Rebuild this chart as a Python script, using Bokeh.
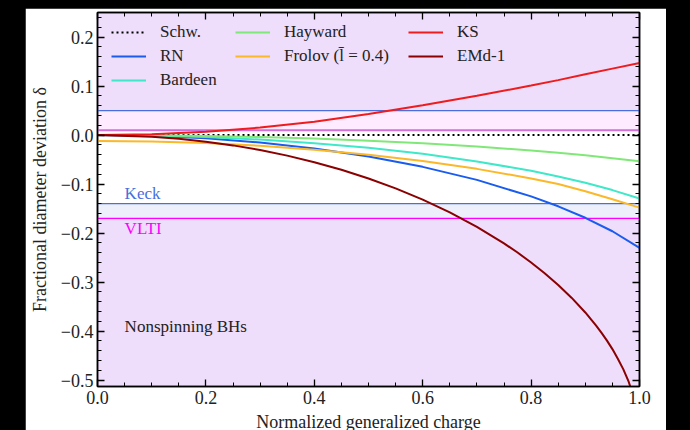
from bokeh.plotting import figure
from bokeh.models import (LinearAxis, Range1d, BoxAnnotation, Span, Label, Legend,
                          LegendItem, CustomJSTickFormatter, SingleIntervalTicker)
from bokeh.layouts import column
from bokeh.embed import file_html
from bokeh.resources import INLINE

# ---- data -------------------------------------------------------------
charge = [0.0, 0.1, 0.2, 0.3, 0.4, 0.5, 0.6, 0.7, 0.8, 0.85, 0.9, 0.95, 1.0]
schw = [0.0] * len(charge)
rn = [0.0, -0.0017, -0.0067, -0.0153, -0.0276, -0.0439, -0.0649, -0.0915,
      -0.1251, -0.1454, -0.1688, -0.1963, -0.2302]
bardeen = [0.0, -0.0010, -0.0041, -0.0093, -0.0166, -0.0259, -0.0383, -0.0538,
           -0.0729, -0.0844, -0.0973, -0.1123, -0.1295]
hayward = [0.0, -0.0004, -0.0018, -0.0040, -0.0072, -0.0114, -0.0168, -0.0234,
           -0.0316, -0.0363, -0.0414, -0.0472, -0.0537]
frolov = [-0.0122, -0.0133, -0.0164, -0.0218, -0.0298, -0.0403, -0.0530, -0.0690,
          -0.0885, -0.1000, -0.1145, -0.1310, -0.1480]
ks = [0.0, 0.0017, 0.0068, 0.0152, 0.0270, 0.0430, 0.0610, 0.0800,
      0.1010, 0.1120, 0.1240, 0.1355, 0.1470]
emd_charge = [0.0, 0.1, 0.15, 0.2, 0.25, 0.3, 0.35, 0.4, 0.45, 0.5, 0.55, 0.6,
              0.65, 0.7, 0.75, 0.775, 0.8, 0.825, 0.85, 0.875, 0.9, 0.92, 0.93,
              0.94, 0.95, 0.96, 0.97, 0.98, 0.99]
emd1 = [0.0, -0.0033, -0.0075, -0.0135, -0.0211, -0.0306, -0.0420, -0.0554,
        -0.0709, -0.0886, -0.1089, -0.1318, -0.1577, -0.1873, -0.2210, -0.2397,
        -0.2600, -0.2819, -0.3059, -0.3323, -0.3620, -0.3888, -0.4035, -0.4194,
        -0.4367, -0.4565, -0.4775, -0.5032, -0.5365]

# 1-sigma bounds on the shadow diameter deviation
keck_bounds = [-0.14, 0.05]
vlti_bounds = [-0.17, 0.01]

FONT = "Liberation Serif"
KECK_COLOR = "#4a6fdc"
VLTI_COLOR = "#ff00ff"

p = figure(width=641, height=426, x_range=Range1d(0.0, 1.0),
           y_range=Range1d(-0.513, 0.25), output_backend="svg",
           toolbar_location=None, min_border_left=72, min_border_right=27,
           min_border_top=4, min_border_bottom=47)
p.margin = (8, 24, 0, 25)
p.background_fill_color = "white"
p.border_fill_color = "white"
p.outline_line_color = "black"
p.outline_line_width = 1.5
p.grid.visible = False

# excluded regions (outside each 1-sigma interval)
for lo, hi, col, a in [(keck_bounds[0], keck_bounds[1], KECK_COLOR, 0.10),
                       (vlti_bounds[0], vlti_bounds[1], VLTI_COLOR, 0.08)]:
    p.add_layout(BoxAnnotation(top=lo, fill_color=col, fill_alpha=a,
                               line_alpha=0, level="underlay"))
    p.add_layout(BoxAnnotation(bottom=hi, fill_color=col, fill_alpha=a,
                               line_alpha=0, level="underlay"))

for yv in keck_bounds:
    p.add_layout(Span(location=yv, dimension="width", line_color=KECK_COLOR,
                      line_width=1.2, level="underlay"))
p.add_layout(Span(location=vlti_bounds[0], dimension="width", line_color=VLTI_COLOR,
                  line_width=1.2, level="underlay"))
p.add_layout(Span(location=vlti_bounds[1], dimension="width", line_color="#d070d8",
                  line_width=2, level="underlay"))

# curves
r_schw = p.line(charge, schw, line_color="black", line_width=2, line_dash="2 3")
r_rn = p.line(charge, rn, line_color="#1a5cf0", line_width=2)
r_bar = p.line(charge, bardeen, line_color="#3ee8c8", line_width=2)
r_hay = p.line(charge, hayward, line_color="#80e878", line_width=2)
r_fro = p.line(charge, frolov, line_color="#fbb829", line_width=2)
r_ks = p.line(charge, ks, line_color="#ee1c1c", line_width=2)
r_emd = p.line(emd_charge, emd1, line_color="#8b0000", line_width=2)

# texts
p.add_layout(Label(x=0.05, y=-0.12, text="Keck", text_color=KECK_COLOR,
                   text_font=FONT, text_font_size="17px", text_baseline="middle"))
p.add_layout(Label(x=0.05, y=-0.19, text="VLTI", text_color=VLTI_COLOR,
                   text_font=FONT, text_font_size="17px", text_baseline="middle"))
p.add_layout(Label(x=0.05, y=-0.391, text="Nonspinning BHs", text_color="#222222",
                   text_font=FONT, text_font_size="17px", text_baseline="middle"))

# axes
fmt = CustomJSTickFormatter(code="return tick.toFixed(1).replace('-', '\u2212');")
blank_fmt = CustomJSTickFormatter(code="return '';")
xt = SingleIntervalTicker(interval=0.2, num_minor_ticks=4)
yt = SingleIntervalTicker(interval=0.1, num_minor_ticks=5)


def style_axis(ax, labels=True):
    ax.axis_line_color = "black"
    ax.axis_line_width = 1.5
    ax.major_tick_in = 7
    ax.major_tick_out = 0
    ax.minor_tick_in = 4
    ax.minor_tick_out = 0
    ax.major_tick_line_color = "black"
    ax.minor_tick_line_color = "black"
    ax.major_tick_line_width = 1.3
    ax.minor_tick_line_width = 1
    if labels:
        ax.major_label_text_font = FONT
        ax.major_label_text_font_size = "18px"
        ax.major_label_text_color = "#222222"
        ax.axis_label_text_font = FONT
        ax.axis_label_text_font_size = "18px"
        ax.axis_label_text_font_style = "normal"
        ax.axis_label_text_color = "#222222"
    else:
        ax.formatter = blank_fmt
        ax.major_label_standoff = 0
        ax.axis_label = None


p.xaxis.ticker = xt
p.yaxis.ticker = yt
p.xaxis.formatter = fmt
p.yaxis.formatter = fmt
p.xaxis.axis_label = "Normalized generalized charge"
p.yaxis.axis_label = "Fractional diameter deviation δ"
style_axis(p.xaxis[0])
style_axis(p.yaxis[0])
p.xaxis.major_label_standoff = 4
p.xaxis.axis_label_standoff = 5
p.yaxis.major_label_standoff = 4
p.yaxis.axis_label_standoff = 8

top_ax = LinearAxis(ticker=xt)
right_ax = LinearAxis(ticker=yt)
style_axis(top_ax, labels=False)
style_axis(right_ax, labels=False)
p.add_layout(top_ax, "above")
p.add_layout(right_ax, "right")


# legends: three columns
def make_legend(items, vx, vy):
    lg = Legend(items=[LegendItem(label=t, renderers=[r]) for t, r in items],
                location=(vx, vy), orientation="vertical",
                background_fill_alpha=0, border_line_alpha=0,
                label_text_font=FONT, label_text_font_size="17px",
                label_text_color="#222222", glyph_width=35, glyph_height=20,
                label_height=20, spacing=4, padding=0, margin=0,
                label_standoff=14)
    p.add_layout(lg)


make_legend([("Schw.", r_schw), ("RN", r_rn), ("Bardeen", r_bar)], 14, 296)
make_legend([("Hayward", r_hay), ("Frolov (l̄ = 0.4)", r_fro)], 138, 320)
make_legend([("KS", r_ks), ("EMd-1", r_emd)], 311, 320)

page = column(p, width=690, height=434, styles={"background-color": "black"})
page.margin = 0

open("out.html", "w").write(file_html(page, INLINE))
